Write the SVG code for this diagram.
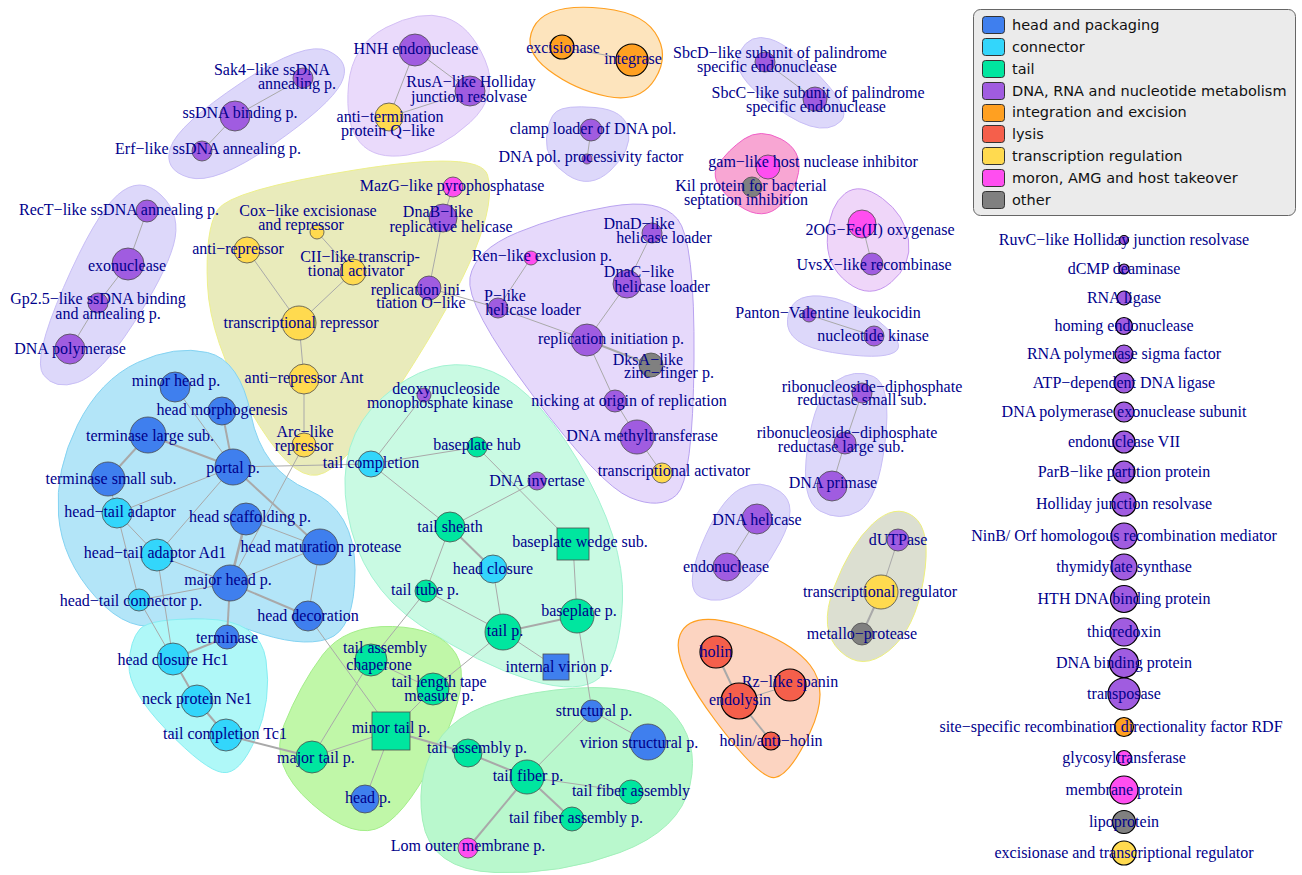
<svg xmlns="http://www.w3.org/2000/svg" width="1302" height="875" viewBox="0 0 1302 875">
<style>
.lbl{font-family:"Liberation Serif","Times New Roman",serif;font-size:16px;fill:#00008b;text-anchor:middle}
.leg{font-family:"DejaVu Sans",sans-serif;font-size:14.5px;fill:#111}
.e{stroke:#a9a9a9;stroke-width:1;fill:none}
.e2{stroke-width:2}
.e3{stroke-width:2.6}
.n{stroke:#4d4d4d;stroke-width:0.8}
.k{stroke:#000;stroke-width:1.2}
.hd{fill:#3f7fee}.cn{fill:#33d6fb}.tl{fill:#00e69f}.dn{fill:#a05ce0}.ie{fill:#ffa021}
.ly{fill:#f55f4b}.tr{fill:#ffda4f}.mo{fill:#ff4ef0}.ot{fill:#808080}
.hdna{fill:#ddd8fa;stroke:#c8bef6;stroke-width:1}
.hdna2{fill:#eadafb;stroke:#d4bff5;stroke-width:1}
.hdna3{fill:#e6d9fb;stroke:#b9a3f0;stroke-width:1}
</style>
<rect width="1302" height="875" fill="#fff"/>
<g id="hulls">
<path class="hdna" d="M328.5,51 Q352,62 341,83.5 Q330,105 272.5,145 Q215,185 189,177.5 Q163,170 170.5,147.5 Q178,125 241.5,82.5 Q305,40 328.5,51 Z"/>
<path class="hdna" d="M161,195 Q182,215 173.5,245 Q165,275 132.5,325 Q100,375 77.5,382.5 Q55,390 43.5,375 Q32,360 63.5,287.5 Q95,215 117.5,195 Q140,175 161,195 Z"/>
<path class="hdna2" d="M445,17.5 Q470,25 485,60 Q500,95 470,122.5 Q440,150 407.5,155 Q375,160 360,142.5 Q345,125 348.5,85 Q352,45 386,27.5 Q420,10 445,17.5 Z"/>
<path fill="#fde4bd" stroke="#ffa021" stroke-width="1.2" d="M592.5,7.5 Q640,10 655,32.5 Q670,55 655,79 Q640,103 607.5,96.5 Q575,90 548.5,70 Q522,50 533.5,27.5 Q545,5 592.5,7.5 Z"/>
<path class="hdna" d="M595,107.5 Q625,110 628.5,130 Q632,150 611,170 Q590,190 567.5,175 Q545,160 546.5,139 Q548,118 556.5,111.5 Q565,105 595,107.5 Z"/>
<path class="hdna" d="M770,39 Q790,45 821,77.5 Q852,110 841,121 Q830,132 810,126 Q790,120 760,95 Q730,70 740,51.5 Q750,33 770,39 Z"/>
<path fill="#f8a6d3" stroke="#f060c8" stroke-width="1" d="M781,139 Q802,150 798.5,172.5 Q795,195 776.5,208.5 Q758,222 733,201 Q708,180 718,165 Q728,150 744,139 Q760,128 781,139 Z"/>
<path fill="#efd6f9" stroke="#c596ee" stroke-width="1" d="M882.5,198.5 Q905,215 908.5,240 Q912,265 891,282.5 Q870,300 847.5,282.5 Q825,265 827.5,235 Q830,205 845,193.5 Q860,182 882.5,198.5 Z"/>
<path fill="#e9ebbb" stroke="#eef08c" stroke-width="1" d="M355,170 Q480,150 487.5,175 Q495,200 475,250 Q455,300 400,385 Q345,470 317.5,475 Q290,480 250,410 Q210,340 207.5,285 Q205,230 217.5,210 Q230,190 355,170 Z"/>
<path class="hdna3" d="M610,206.5 Q660,198 677.5,219 Q695,240 694,360 Q693,480 676.5,495 Q660,510 630,497.5 Q600,485 532.5,395 Q465,305 470,277.5 Q475,250 517.5,232.5 Q560,215 610,206.5 Z"/>
<path class="hdna" d="M820,296 Q850,298 879,321.5 Q908,345 894,352.5 Q880,360 832.5,352.5 Q785,345 787.5,319.5 Q790,294 820,296 Z"/>
<path class="hdna" d="M873.5,376.5 Q892,385 885,442.5 Q878,500 859,511 Q840,522 820,511 Q800,500 807.5,447.5 Q815,395 835,381.5 Q855,368 873.5,376.5 Z"/>
<path class="hdna" d="M780,491.5 Q800,505 780,542.5 Q760,580 740,592.5 Q720,605 701.5,597.5 Q683,590 701.5,545 Q720,500 740,489 Q760,478 780,491.5 Z"/>
<path fill="#dcdfd1" stroke="#eef07c" stroke-width="1" d="M913.5,516.5 Q932,530 923.5,580 Q915,630 888.5,651 Q862,672 840,651 Q818,630 834,587.5 Q850,545 872.5,524 Q895,503 913.5,516.5 Z"/>
<path fill="#fcd4c1" stroke="#ffa021" stroke-width="1.2" d="M740,625 Q790,640 810,665 Q830,690 810,732.5 Q790,775 775,777.5 Q760,780 715,720 Q670,660 680,635 Q690,610 740,625 Z"/>
<path fill="#b3e5f8" stroke="#84d3f2" stroke-width="1" d="M207.5,352.5 Q240,360 251,415 Q262,470 308.5,490 Q355,510 355,570 Q355,630 327.5,639 Q300,648 250,630 Q200,612 165,623.5 Q130,635 96,597.5 Q62,560 58.5,515 Q55,470 77.5,425 Q100,380 137.5,362.5 Q175,345 207.5,352.5 Z"/>
<path fill="#aff8f8" stroke="#86eef2" stroke-width="1" d="M205,619 Q260,620 266,660 Q272,700 256,737.5 Q240,775 222.5,772.5 Q205,770 166.5,730 Q128,690 129,665 Q130,640 140,629 Q150,618 205,619 Z"/>
<path fill="#c9fae3" stroke="#a2f3d2" stroke-width="1" d="M480,367.5 Q530,380 577.5,460 Q625,540 622.5,600 Q620,660 600,677.5 Q580,695 530,680 Q480,665 420,625 Q360,585 347.5,512.5 Q335,440 382.5,397.5 Q430,355 480,367.5 Z"/>
<path fill="#c0f7a8" stroke="#a4ee8a" stroke-width="1" d="M392.5,626.5 Q440,628 456,654 Q472,680 441,745 Q410,810 382.5,826 Q355,842 311.5,803.5 Q268,765 284,725 Q300,685 322.5,655 Q345,625 392.5,626.5 Z"/>
<path fill="#b9f8cd" stroke="#a2f0ba" stroke-width="1" d="M555,690 Q640,680 670,710 Q700,740 690,785 Q680,830 620,852.5 Q560,875 495,872.5 Q430,870 422.5,820 Q415,770 442.5,735 Q470,700 555,690 Z"/>
</g>
<g id="connectors">
<line class="e" x1="303" y1="78" x2="235" y2="116"/>
<line class="e" x1="235" y1="116" x2="202" y2="151"/>
<line class="e" x1="147" y1="211" x2="128" y2="264"/>
<line class="e" x1="128" y1="264" x2="98" y2="303"/>
<line class="e" x1="98" y1="303" x2="70" y2="349"/>
<line class="e" x1="415" y1="50" x2="470" y2="91"/>
<line class="e" x1="415" y1="50" x2="389" y2="117"/>
<line class="e" x1="389" y1="117" x2="470" y2="91"/>
<line class="e" x1="562" y1="47" x2="632" y2="60"/>
<line class="e" x1="591" y1="130" x2="587" y2="159"/>
<line class="e" x1="765" y1="62" x2="815" y2="99"/>
<line class="e" x1="768" y1="167" x2="752" y2="187"/>
<line class="e" x1="862" y1="224" x2="872" y2="264"/>
<line class="e" x1="809" y1="315" x2="874" y2="336"/>
<line class="e" x1="862" y1="393" x2="845" y2="443"/>
<line class="e" x1="845" y1="443" x2="832" y2="486"/>
<line class="e" x1="757" y1="519" x2="727" y2="567"/>
<line class="e" x1="898" y1="540" x2="881" y2="592"/>
<line class="e e2" x1="881" y1="592" x2="862" y2="634"/>
<line class="e e2" x1="716" y1="652" x2="739" y2="701"/>
<line class="e" x1="739" y1="701" x2="790" y2="685"/>
<line class="e e2" x1="739" y1="701" x2="771" y2="741"/>
<line class="e" x1="453" y1="187" x2="443" y2="218"/>
<line class="e" x1="247" y1="250" x2="299" y2="323"/>
<line class="e" x1="317" y1="232" x2="353" y2="272"/>
<line class="e" x1="353" y1="272" x2="299" y2="323"/>
<line class="e" x1="443" y1="218" x2="429" y2="288"/>
<line class="e" x1="429" y1="288" x2="498" y2="308"/>
<line class="e" x1="299" y1="323" x2="304" y2="379"/>
<line class="e" x1="304" y1="379" x2="304" y2="445"/>
<line class="e" x1="304" y1="445" x2="230" y2="583"/>
<line class="e" x1="175" y1="387" x2="233" y2="467"/>
<line class="e e2" x1="222" y1="411" x2="233" y2="467"/>
<line class="e e2" x1="148" y1="435" x2="233" y2="467"/>
<line class="e e2" x1="148" y1="435" x2="108" y2="479"/>
<line class="e" x1="108" y1="479" x2="117" y2="513"/>
<line class="e" x1="233" y1="467" x2="117" y2="513"/>
<line class="e" x1="233" y1="467" x2="157" y2="555"/>
<line class="e e2" x1="233" y1="467" x2="320" y2="547"/>
<line class="e" x1="233" y1="467" x2="371" y2="464"/>
<line class="e" x1="117" y1="513" x2="157" y2="555"/>
<line class="e" x1="117" y1="513" x2="139" y2="600"/>
<line class="e" x1="157" y1="555" x2="230" y2="583"/>
<line class="e" x1="157" y1="555" x2="173" y2="659"/>
<line class="e" x1="139" y1="600" x2="230" y2="583"/>
<line class="e" x1="139" y1="600" x2="173" y2="659"/>
<line class="e" x1="246" y1="519" x2="320" y2="547"/>
<line class="e e3" x1="246" y1="519" x2="230" y2="583"/>
<line class="e" x1="230" y1="583" x2="320" y2="547"/>
<line class="e e2" x1="230" y1="583" x2="308" y2="616"/>
<line class="e" x1="320" y1="547" x2="308" y2="616"/>
<line class="e e2" x1="230" y1="583" x2="227" y2="637"/>
<line class="e" x1="308" y1="616" x2="391" y2="731"/>
<line class="e e2" x1="227" y1="637" x2="173" y2="659"/>
<line class="e e2" x1="173" y1="659" x2="197" y2="701"/>
<line class="e e2" x1="197" y1="701" x2="226" y2="735"/>
<line class="e e2" x1="226" y1="735" x2="312" y2="757"/>
<line class="e" x1="424" y1="395" x2="371" y2="464"/>
<line class="e" x1="371" y1="464" x2="477" y2="447"/>
<line class="e" x1="371" y1="464" x2="450" y2="527"/>
<line class="e" x1="477" y1="447" x2="573" y2="544"/>
<line class="e" x1="537" y1="481" x2="450" y2="527"/>
<line class="e e2" x1="450" y1="527" x2="493" y2="569"/>
<line class="e" x1="450" y1="527" x2="426" y2="591"/>
<line class="e" x1="493" y1="569" x2="503" y2="632"/>
<line class="e" x1="573" y1="544" x2="577" y2="616"/>
<line class="e" x1="426" y1="591" x2="503" y2="632"/>
<line class="e e2" x1="503" y1="632" x2="577" y2="616"/>
<line class="e" x1="503" y1="632" x2="556" y2="667"/>
<line class="e" x1="577" y1="616" x2="592" y2="711"/>
<line class="e" x1="426" y1="591" x2="371" y2="660"/>
<line class="e" x1="503" y1="632" x2="433" y2="689"/>
<line class="e" x1="371" y1="660" x2="433" y2="689"/>
<line class="e" x1="371" y1="660" x2="312" y2="757"/>
<line class="e" x1="433" y1="689" x2="391" y2="731"/>
<line class="e" x1="391" y1="731" x2="312" y2="757"/>
<line class="e" x1="391" y1="731" x2="365" y2="799"/>
<line class="e e2" x1="391" y1="731" x2="468" y2="753"/>
<line class="e" x1="592" y1="711" x2="648" y2="742"/>
<line class="e" x1="592" y1="711" x2="527" y2="777"/>
<line class="e e2" x1="468" y1="753" x2="527" y2="777"/>
<line class="e" x1="527" y1="777" x2="631" y2="792"/>
<line class="e e2" x1="527" y1="777" x2="572" y2="819"/>
<line class="e e2" x1="527" y1="777" x2="468" y2="848"/>
<line class="e" x1="652" y1="233" x2="627" y2="284"/>
<line class="e" x1="531" y1="258" x2="498" y2="308"/>
<line class="e" x1="627" y1="284" x2="587" y2="340"/>
<line class="e" x1="498" y1="308" x2="587" y2="340"/>
<line class="e e2" x1="587" y1="340" x2="651" y2="365"/>
<line class="e" x1="587" y1="340" x2="615" y2="401"/>
<line class="e" x1="615" y1="401" x2="637" y2="437"/>
<line class="e" x1="637" y1="437" x2="662" y2="473"/>
</g>
<g id="n-sak4"><circle class="dn n" cx="303" cy="78" r="10"/><text class="lbl"><tspan x="272" y="75">Sak4−like ssDNA</tspan><tspan x="297" y="89">annealing p.</tspan></text></g>
<g id="n-ssb"><circle class="dn n" cx="235" cy="116" r="15"/><text class="lbl" x="240" y="118">ssDNA binding p.</text></g>
<g id="n-erf"><circle class="dn n" cx="202" cy="151" r="10"/><text class="lbl" x="208" y="154">Erf−like ssDNA annealing p.</text></g>
<g id="n-rect"><circle class="dn n" cx="147" cy="211" r="11"/><text class="lbl" x="119" y="215">RecT−like ssDNA annealing p.</text></g>
<g id="n-exo"><circle class="dn n" cx="128" cy="264" r="16"/><text class="lbl" x="127" y="271">exonuclease</text></g>
<g id="n-gp25"><circle class="dn n" cx="98" cy="303" r="10"/><text class="lbl"><tspan x="98" y="304">Gp2.5−like ssDNA binding</tspan><tspan x="108" y="319">and  annealing p.</tspan></text></g>
<g id="n-dnapol"><circle class="dn n" cx="70" cy="349" r="15"/><text class="lbl" x="70" y="354">DNA polymerase</text></g>
<g id="n-hnh"><circle class="dn n" cx="415" cy="50" r="16"/><text class="lbl" x="416" y="54">HNH endonuclease</text></g>
<g id="n-rusa"><circle class="dn n" cx="470" cy="91" r="15"/><text class="lbl"><tspan x="471" y="87">RusA−like Holliday</tspan><tspan x="469" y="102">junction resolvase</tspan></text></g>
<g id="n-antiterm"><circle class="tr n" cx="389" cy="117" r="14"/><text class="lbl"><tspan x="390" y="122">anti−termination</tspan><tspan x="388" y="136">protein Q−like</tspan></text></g>
<g id="n-excis"><circle class="ie k" cx="562" cy="47" r="12"/><text class="lbl" x="563" y="53">excisionase</text></g>
<g id="n-integ"><circle class="ie k" cx="632" cy="60" r="16"/><text class="lbl" x="633" y="64">integrase</text></g>
<g id="n-clamp"><circle class="dn n" cx="591" cy="130" r="11"/><text class="lbl" x="593" y="134">clamp loader of DNA pol.</text></g>
<g id="n-proc"><circle class="dn n" cx="587" cy="159" r="5"/><text class="lbl" x="591" y="162">DNA pol. processivity factor</text></g>
<g id="n-sbcd"><circle class="dn n" cx="765" cy="62" r="10"/><text class="lbl"><tspan x="780" y="58">SbcD−like subunit of palindrome</tspan><tspan x="767" y="72">specific endonuclease</tspan></text></g>
<g id="n-sbcc"><circle class="dn n" cx="815" cy="99" r="12"/><text class="lbl"><tspan x="818" y="98">SbcC−like subunit of palindrome</tspan><tspan x="816" y="112">specific endonuclease</tspan></text></g>
<g id="n-gam"><circle class="mo n" cx="768" cy="167" r="12"/><text class="lbl" x="813" y="167">gam−like host nuclease inhibitor</text></g>
<g id="n-kil"><circle class="ot n" cx="752" cy="187" r="10"/><text class="lbl"><tspan x="751" y="191">Kil protein for bacterial</tspan><tspan x="746" y="205">septation inhibition</tspan></text></g>
<g id="n-og"><circle class="mo n" cx="862" cy="224" r="14"/><text class="lbl" x="880" y="235">2OG−Fe(II) oxygenase</text></g>
<g id="n-uvsx"><circle class="dn n" cx="872" cy="264" r="11"/><text class="lbl" x="874" y="270">UvsX−like recombinase</text></g>
<g id="n-mazg"><circle class="mo n" cx="453" cy="187" r="10"/><text class="lbl" x="452" y="191">MazG−like pyrophosphatase</text></g>
<g id="n-cox"><circle class="tr n" cx="317" cy="232" r="7"/><text class="lbl"><tspan x="308" y="216">Cox−like excisionase</tspan><tspan x="301" y="230">and repressor</tspan></text></g>
<g id="n-dnab"><circle class="dn n" cx="443" cy="218" r="14"/><text class="lbl"><tspan x="438" y="217">DnaB−like</tspan><tspan x="451" y="232">replicative helicase</tspan></text></g>
<g id="n-antirep"><circle class="tr n" cx="247" cy="250" r="13"/><text class="lbl" x="238" y="254">anti−repressor</text></g>
<g id="n-cii"><circle class="tr n" cx="353" cy="272" r="13"/><text class="lbl"><tspan x="360" y="262">CII−like transcrip-</tspan><tspan x="356" y="276">tional activator</tspan></text></g>
<g id="n-repo"><circle class="dn n" cx="429" cy="288" r="12"/><text class="lbl"><tspan x="418" y="295">replication ini-</tspan><tspan x="421" y="308">tiation O−like</tspan></text></g>
<g id="n-trep"><circle class="tr n" cx="299" cy="323" r="17"/><text class="lbl" x="301" y="328">transcriptional repressor</text></g>
<g id="n-ant"><circle class="tr n" cx="304" cy="379" r="15"/><text class="lbl" x="304" y="383">anti−repressor Ant</text></g>
<g id="n-arc"><circle class="tr n" cx="304" cy="445" r="12"/><text class="lbl"><tspan x="305" y="437">Arc−like</tspan><tspan x="304" y="451">repressor</tspan></text></g>
<g id="n-minorhead"><circle class="hd n" cx="175" cy="387" r="15"/><text class="lbl" x="176" y="386">minor head p.</text></g>
<g id="n-headmorph"><circle class="hd n" cx="222" cy="411" r="14"/><text class="lbl" x="222" y="415">head morphogenesis</text></g>
<g id="n-termlarge"><circle class="hd n" cx="148" cy="435" r="18"/><text class="lbl" x="150" y="441">terminase large sub.</text></g>
<g id="n-portal"><circle class="hd n" cx="233" cy="467" r="18"/><text class="lbl" x="233" y="473">portal p.</text></g>
<g id="n-termsmall"><circle class="hd n" cx="108" cy="479" r="17"/><text class="lbl" x="111" y="484">terminase small sub.</text></g>
<g id="n-hta"><circle class="cn n" cx="117" cy="513" r="15"/><text class="lbl" x="120" y="517">head−tail adaptor</text></g>
<g id="n-scaff"><circle class="hd n" cx="246" cy="519" r="16"/><text class="lbl" x="250" y="522">head scaffolding p.</text></g>
<g id="n-matur"><circle class="hd n" cx="320" cy="547" r="18"/><text class="lbl" x="321" y="552">head maturation protease</text></g>
<g id="n-ad1"><circle class="cn n" cx="157" cy="555" r="16"/><text class="lbl" x="155" y="558">head−tail adaptor Ad1</text></g>
<g id="n-majorhead"><circle class="hd n" cx="230" cy="583" r="18"/><text class="lbl" x="228" y="585">major head p.</text></g>
<g id="n-htc"><circle class="cn n" cx="139" cy="600" r="11"/><text class="lbl" x="131" y="606">head−tail connector p.</text></g>
<g id="n-decor"><circle class="hd n" cx="308" cy="616" r="15"/><text class="lbl" x="308" y="621">head decoration</text></g>
<g id="n-terminase"><circle class="hd n" cx="227" cy="637" r="12"/><text class="lbl" x="227" y="643">terminase</text></g>
<g id="n-hc1"><circle class="cn n" cx="173" cy="659" r="16"/><text class="lbl" x="173" y="665">head closure Hc1</text></g>
<g id="n-ne1"><circle class="cn n" cx="197" cy="701" r="16"/><text class="lbl" x="197" y="704">neck protein Ne1</text></g>
<g id="n-tc1"><circle class="cn n" cx="226" cy="735" r="16"/><text class="lbl" x="225" y="739">tail completion Tc1</text></g>
<g id="n-deoxy"><circle class="dn n" cx="424" cy="395" r="7"/><text class="lbl"><tspan x="446" y="394">deoxynucleoside</tspan><tspan x="440" y="408">monophosphate kinase</tspan></text></g>
<g id="n-bphub"><circle class="tl n" cx="477" cy="447" r="10"/><text class="lbl" x="477" y="450">baseplate hub</text></g>
<g id="n-tailcomp"><circle class="cn n" cx="371" cy="464" r="13"/><text class="lbl" x="371" y="468">tail completion</text></g>
<g id="n-invert"><circle class="dn n" cx="537" cy="481" r="9"/><text class="lbl" x="537" y="486">DNA invertase</text></g>
<g id="n-sheath"><circle class="tl n" cx="450" cy="527" r="15"/><text class="lbl" x="450" y="532">tail sheath</text></g>
<g id="n-wedge"><rect class="tl n" x="557" y="528" width="32" height="32"/><text class="lbl" x="580" y="547">baseplate wedge sub.</text></g>
<g id="n-hclos"><circle class="cn n" cx="493" cy="569" r="14"/><text class="lbl" x="493" y="574">head closure</text></g>
<g id="n-tube"><circle class="tl n" cx="426" cy="591" r="11"/><text class="lbl" x="425" y="595">tail tube p.</text></g>
<g id="n-tailp"><circle class="tl n" cx="503" cy="632" r="18"/><text class="lbl" x="505" y="636">tail p.</text></g>
<g id="n-baseplate"><circle class="tl n" cx="577" cy="616" r="17"/><text class="lbl" x="579" y="616">baseplate p.</text></g>
<g id="n-internal"><rect class="hd n" x="543" y="654" width="26" height="26"/><text class="lbl" x="559" y="672">internal virion p.</text></g>
<g id="n-chap"><circle class="tl n" cx="371" cy="660" r="16"/><text class="lbl"><tspan x="385" y="653">tail assembly</tspan><tspan x="379" y="670">chaperone</tspan></text></g>
<g id="n-tape"><circle class="tl n" cx="433" cy="689" r="16"/><text class="lbl"><tspan x="439" y="687">tail length tape</tspan><tspan x="439" y="701">measure p.</tspan></text></g>
<g id="n-minortail"><rect class="tl n" x="372" y="712" width="38" height="38"/><text class="lbl" x="391" y="733">minor tail p.</text></g>
<g id="n-majortail"><circle class="tl n" cx="312" cy="757" r="16"/><text class="lbl" x="316" y="763">major tail p.</text></g>
<g id="n-headp"><circle class="hd n" cx="365" cy="799" r="14"/><text class="lbl" x="368" y="803">head p.</text></g>
<g id="n-struct"><circle class="hd n" cx="592" cy="711" r="11"/><text class="lbl" x="594" y="716">structural p.</text></g>
<g id="n-virion"><circle class="hd n" cx="648" cy="742" r="18"/><text class="lbl" x="639" y="748">virion structural p.</text></g>
<g id="n-tassem"><circle class="tl n" cx="468" cy="753" r="14"/><text class="lbl" x="477" y="753">tail assembly p.</text></g>
<g id="n-fiber"><circle class="tl n" cx="527" cy="777" r="17"/><text class="lbl" x="528" y="781">tail fiber p.</text></g>
<g id="n-fassem"><circle class="tl n" cx="631" cy="792" r="12"/><text class="lbl" x="631" y="796">tail fiber assembly</text></g>
<g id="n-fassemp"><circle class="tl n" cx="572" cy="819" r="12"/><text class="lbl" x="576" y="823">tail fiber assembly p.</text></g>
<g id="n-lom"><circle class="mo n" cx="468" cy="848" r="10"/><text class="lbl" x="468" y="851">Lom outer membrane p.</text></g>
<g id="n-dnad"><circle class="dn n" cx="652" cy="233" r="10"/><text class="lbl"><tspan x="639" y="229">DnaD−like</tspan><tspan x="664" y="243">helicase loader</tspan></text></g>
<g id="n-ren"><circle class="mo n" cx="531" cy="258" r="7"/><text class="lbl" x="542" y="261">Ren−like exclusion p.</text></g>
<g id="n-dnac"><circle class="dn n" cx="627" cy="284" r="14"/><text class="lbl"><tspan x="639" y="277">DnaC−like</tspan><tspan x="662" y="292">helicase loader</tspan></text></g>
<g id="n-plike"><circle class="dn n" cx="498" cy="308" r="10"/><text class="lbl"><tspan x="505" y="301">P−like</tspan><tspan x="533" y="315">helicase loader</tspan></text></g>
<g id="n-repinit"><circle class="dn n" cx="587" cy="340" r="16"/><text class="lbl" x="611" y="344">replication initiation p.</text></g>
<g id="n-dksa"><circle class="ot n" cx="651" cy="365" r="12"/><text class="lbl"><tspan x="648" y="365">DksA−like</tspan><tspan x="669" y="378">zinc−finger p.</tspan></text></g>
<g id="n-nicking"><circle class="dn n" cx="615" cy="401" r="11"/><text class="lbl" x="629" y="406">nicking at origin of replication</text></g>
<g id="n-methyl"><circle class="dn n" cx="637" cy="437" r="17"/><text class="lbl" x="642" y="441">DNA methyltransferase</text></g>
<g id="n-transact"><circle class="tr n" cx="662" cy="473" r="10"/><text class="lbl" x="674" y="476">transcriptional activator</text></g>
<g id="n-panton"><circle class="dn n" cx="809" cy="315" r="7"/><text class="lbl" x="828" y="318">Panton−Valentine leukocidin</text></g>
<g id="n-nkin"><circle class="dn n" cx="874" cy="336" r="10"/><text class="lbl" x="873" y="341">nucleotide kinase</text></g>
<g id="n-rnrs"><circle class="dn n" cx="862" cy="393" r="10"/><text class="lbl"><tspan x="872" y="392">ribonucleoside−diphosphate</tspan><tspan x="862" y="405">reductase small sub.</tspan></text></g>
<g id="n-rnrl"><circle class="dn n" cx="845" cy="443" r="11"/><text class="lbl"><tspan x="847" y="438">ribonucleoside−diphosphate</tspan><tspan x="841" y="452">reductase large sub.</tspan></text></g>
<g id="n-primase"><circle class="dn n" cx="832" cy="486" r="15"/><text class="lbl" x="833" y="488">DNA primase</text></g>
<g id="n-helic"><circle class="dn n" cx="757" cy="519" r="15"/><text class="lbl" x="757" y="525">DNA helicase</text></g>
<g id="n-endon"><circle class="dn n" cx="727" cy="567" r="14"/><text class="lbl" x="726" y="572">endonuclease</text></g>
<g id="n-dutp"><circle class="dn n" cx="898" cy="540" r="11"/><text class="lbl" x="898" y="545">dUTPase</text></g>
<g id="n-treg"><circle class="tr n" cx="881" cy="592" r="17"/><text class="lbl" x="880" y="597">transcriptional regulator</text></g>
<g id="n-metal"><circle class="ot n" cx="862" cy="634" r="11"/><text class="lbl" x="862" y="639">metallo−protease</text></g>
<g id="n-holin"><circle class="ly k" cx="716" cy="652" r="16"/><text class="lbl" x="716" y="657">holin</text></g>
<g id="n-rz"><circle class="ly k" cx="790" cy="685" r="16"/><text class="lbl" x="790" y="687">Rz−like spanin</text></g>
<g id="n-endol"><circle class="ly k" cx="739" cy="701" r="18"/><text class="lbl" x="740" y="705">endolysin</text></g>
<g id="n-antih"><circle class="ly k" cx="771" cy="741" r="9"/><text class="lbl" x="771" y="746">holin/anti−holin</text></g>
<g id="n-ruvc"><circle class="dn k" cx="1124" cy="240" r="4.5"/><text class="lbl" x="1124" y="245">RuvC−like Holliday junction resolvase</text></g>
<g id="n-dcmp"><circle class="dn k" cx="1124" cy="269" r="5"/><text class="lbl" x="1124" y="274">dCMP deaminase</text></g>
<g id="n-rnalig"><circle class="dn k" cx="1124" cy="298" r="7"/><text class="lbl" x="1124" y="303">RNA ligase</text></g>
<g id="n-homing"><circle class="dn k" cx="1124" cy="326" r="8.5"/><text class="lbl" x="1124" y="331">homing endonuclease</text></g>
<g id="n-sigma"><circle class="dn k" cx="1124" cy="354" r="9"/><text class="lbl" x="1124" y="359">RNA polymerase sigma factor</text></g>
<g id="n-atplig"><circle class="dn k" cx="1124" cy="383" r="10"/><text class="lbl" x="1124" y="388">ATP−dependent DNA ligase</text></g>
<g id="n-polexo"><circle class="dn k" cx="1124" cy="412" r="10"/><text class="lbl" x="1124" y="417">DNA polymerase exonuclease subunit</text></g>
<g id="n-endo7"><circle class="dn k" cx="1124" cy="442" r="11"/><text class="lbl" x="1124" y="447">endonuclease VII</text></g>
<g id="n-parb"><circle class="dn k" cx="1124" cy="472" r="11"/><text class="lbl" x="1124" y="477">ParB−like partition protein</text></g>
<g id="n-hjr"><circle class="dn k" cx="1124" cy="504" r="12"/><text class="lbl" x="1124" y="509">Holliday junction resolvase</text></g>
<g id="n-ninb"><circle class="dn k" cx="1124" cy="536" r="13"/><text class="lbl" x="1124" y="541">NinB/ Orf homologous recombination mediator</text></g>
<g id="n-thy"><circle class="dn k" cx="1124" cy="567" r="13"/><text class="lbl" x="1124" y="572">thymidylate synthase</text></g>
<g id="n-hth"><circle class="dn k" cx="1124" cy="599" r="13.5"/><text class="lbl" x="1124" y="604">HTH DNA binding protein</text></g>
<g id="n-thio"><circle class="dn k" cx="1124" cy="632" r="14"/><text class="lbl" x="1124" y="637">thioredoxin</text></g>
<g id="n-dbp"><circle class="dn k" cx="1124" cy="663" r="14.5"/><text class="lbl" x="1124" y="668">DNA binding protein</text></g>
<g id="n-transp"><circle class="dn k" cx="1124" cy="694" r="16"/><text class="lbl" x="1124" y="699">transposase</text></g>
<g id="n-rdf"><circle class="ie k" cx="1124" cy="727" r="9.5"/><text class="lbl" x="1111" y="732">site−specific recombination directionality factor RDF</text></g>
<g id="n-glyco"><circle class="mo k" cx="1124" cy="758" r="7.5"/><text class="lbl" x="1124" y="763">glycosyltransferase</text></g>
<g id="n-memb"><circle class="mo k" cx="1124" cy="790" r="14"/><text class="lbl" x="1124" y="795">membrane protein</text></g>
<g id="n-lipo"><circle class="ot k" cx="1124" cy="822" r="11.5"/><text class="lbl" x="1124" y="827">lipoprotein</text></g>
<g id="n-exctr"><circle class="tr k" cx="1124" cy="853" r="12"/><text class="lbl" x="1124" y="858">excisionase and transcriptional regulator</text></g>
<g id="legend">
<rect x="973.5" y="9.5" width="322" height="206" rx="7" fill="#ebebeb" stroke="#666" stroke-width="1"/>
<g stroke="#333" stroke-width="1">
<rect class="hd" x="982.5" y="16.5" width="22" height="17" rx="3"/>
<rect class="cn" x="982.5" y="38.5" width="22" height="17" rx="3"/>
<rect class="tl" x="982.5" y="60.5" width="22" height="17" rx="3"/>
<rect class="dn" x="982.5" y="82.5" width="22" height="17" rx="3"/>
<rect class="ie" x="982.5" y="104.5" width="22" height="17" rx="3"/>
<rect class="ly" x="982.5" y="125.5" width="22" height="17" rx="3"/>
<rect class="tr" x="982.5" y="147.5" width="22" height="17" rx="3"/>
<rect class="mo" x="982.5" y="169.5" width="22" height="17" rx="3"/>
<rect class="ot" x="982.5" y="191.5" width="22" height="17" rx="3"/>
</g>
<text class="leg" x="1012" y="30">head and packaging</text>
<text class="leg" x="1012" y="52">connector</text>
<text class="leg" x="1012" y="74">tail</text>
<text class="leg" x="1012" y="96">DNA, RNA and nucleotide metabolism</text>
<text class="leg" x="1012" y="117">integration and excision</text>
<text class="leg" x="1012" y="139">lysis</text>
<text class="leg" x="1012" y="161">transcription regulation</text>
<text class="leg" x="1012" y="183">moron, AMG and host takeover</text>
<text class="leg" x="1012" y="205">other</text>
</g>
</svg>
